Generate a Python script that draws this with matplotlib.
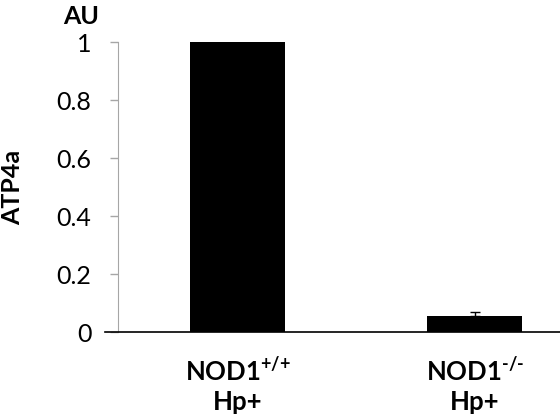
import matplotlib
matplotlib.use("Agg")
import matplotlib.pyplot as plt

# data
groups = [r"NOD1$^{\text{+/+}}$" + "\nHp+", r"NOD1$^{\text{-/-}}$" + "\nHp+"]
atp4a = [1.0, 0.055]
err_up = [0.003, 0.015]
yticks = [0, 0.2, 0.4, 0.6, 0.8, 1]
ytick_labels = ["0", "0.2", "0.4", "0.6", "0.8", "1"]

plt.rcParams["font.family"] = ["Lato", "DejaVu Sans"]
plt.rcParams["mathtext.fontset"] = "custom"
plt.rcParams["mathtext.rm"] = "Lato:bold"
plt.rcParams["mathtext.it"] = "Lato:bold"
plt.rcParams["mathtext.bf"] = "Lato:bold"
plt.rcParams["mathtext.default"] = "rm"

fig = plt.figure(figsize=(5.6, 4.19), dpi=100)
ax = fig.add_axes([118/560, 87/419, 442/560, 290/419])

x = list(range(len(groups)))
ax.bar(x, atp4a, width=0.40, color="black", zorder=2)
ax.errorbar(x, atp4a, yerr=[[0, 0], err_up], fmt="none",
            ecolor="black", elinewidth=1, capsize=3.6, capthick=1, zorder=3)

ax.set_xlim(-0.5036, 1.359)
ax.set_ylim(0, 1)

# axes look
for s in ["top", "right", "bottom"]:
    ax.spines[s].set_visible(False)
ax.spines["left"].set_color("#a6a6a6")
ax.plot([-0.0294, 1], [0, 0], transform=ax.transAxes, color="black",
        lw=1.2, clip_on=False, zorder=4)

ax.set_yticks(yticks)
ax.set_yticklabels(ytick_labels, fontsize=18)
ax.tick_params(axis="y", direction="out", length=6, width=1,
               color="#a6a6a6", pad=13)

ax.set_xticks(x)
ax.set_xticklabels(groups, fontsize=18.5, fontweight="bold", linespacing=1.25)
ax.tick_params(axis="x", length=0, pad=18)

ax.set_ylabel("ATP4a", fontsize=18, fontweight="bold")
ax.yaxis.set_label_coords(-0.213, 0.5)

fig.text(81/560, 1 - 16/419, "AU", fontsize=18, fontweight="bold",
         ha="center", va="center")

fig.savefig("out.png", dpi=100)
